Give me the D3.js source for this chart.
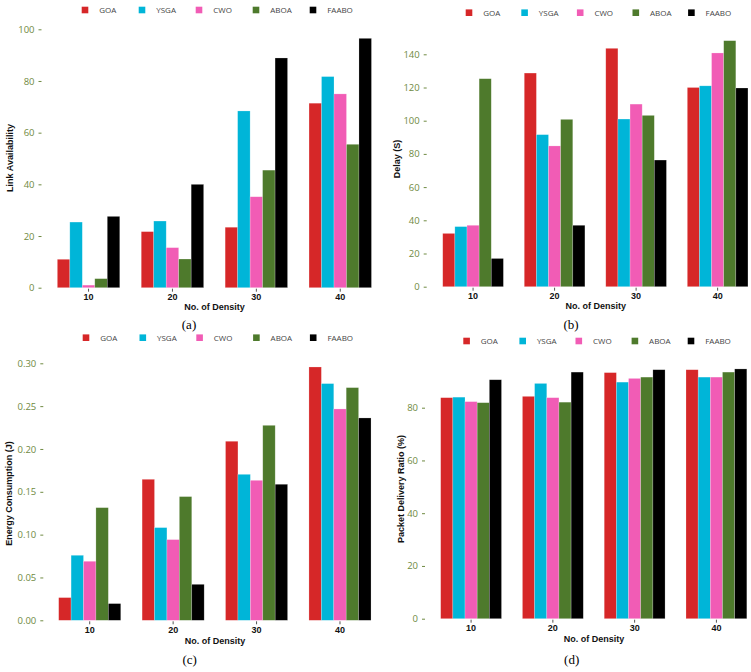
<!DOCTYPE html>
<html>
<head>
<meta charset="utf-8">
<script src="https://cdn.jsdelivr.net/npm/d3@7"></script>
<style>
  body { margin: 0; background: #fff; }
  .tick text { font-family: "Open Sans", sans-serif; }
  .ytick text { fill: #6f8a42; font-size: 9.5px; }
  .ytick line { stroke: #6f8a42; }
  .xtick text { fill: #111; font-size: 9px; font-weight: bold; font-family: "Liberation Sans", Arial, sans-serif; }
  .xtick line { stroke: #555; }
  .label { font-family: "Liberation Sans", Arial, sans-serif; font-weight: bold; font-size: 9px; fill: #111; }
  .legend text { font-family: "Open Sans", sans-serif; font-size: 8px; fill: #444; }
  .caption { font-family: "Liberation Serif", "Times New Roman", serif; font-size: 13px; fill: #000; }
</style>
</head>
<body>
<svg id="fig" width="751" height="672"></svg>
<script>
var densities = ["10", "20", "30", "40"];
var algorithms = ["GOA", "YSGA", "CWO", "ABOA", "FAABO"];
var colors = ["#d62728", "#00b5d8", "#f15cb5", "#4e7a2c", "#000000"];

// rows follow algorithms, columns follow densities
var linkAvailability = [
    [11, 21.7, 23.4, 71.4],
    [25.4, 25.8, 68.4, 81.7],
    [1, 15.5, 35.2, 75],
    [3.5, 11.1, 45.5, 55.5],
    [27.6, 40, 88.9, 96.5]
];
var delay = [
    [32.1, 128.7, 143.6, 120],
    [36.2, 91.6, 101, 121],
    [37, 84.8, 110, 140.8],
    [125.3, 100.8, 103.2, 148.2],
    [17, 37, 76.3, 119.7]
];
var energy = [
    [0.0265, 0.1646, 0.209, 0.2957],
    [0.0759, 0.1082, 0.1704, 0.2763],
    [0.0689, 0.0942, 0.1634, 0.2467],
    [0.1315, 0.1444, 0.2276, 0.2716],
    [0.0195, 0.042, 0.1588, 0.2362]
];
var pdr = [
    [83.8, 84.3, 93.3, 94.4],
    [84, 89.2, 89.7, 91.6],
    [82.3, 83.8, 91.1, 91.6],
    [81.9, 82.1, 91.6, 93.5],
    [90.6, 93.5, 94.4, 94.7]
];

var linkTicks = [0, 20, 40, 60, 80, 100];
var delayTicks = [0, 20, 40, 60, 80, 100, 120, 140];
var energyTicks = [0, 0.05, 0.10, 0.15, 0.20, 0.25, 0.30];
var pdrTicks = [0, 20, 40, 60, 80];

var svg = d3.select("#fig");

var panels = [
    {values: linkAvailability, ticks: linkTicks, fmt: d3.format("d"), title: "Link Availability", cap: "(a)",
     x0: 46.6, x1: 382.2, axisX: 41.5, zeroY: 287.7, topY: 29.3,
     titleX: 13, titleY: 158, xTitleX: 214.5, xTitleY: 310, legX: 81.7, legStep: 57, legY: 10, capX: 189, capY: 329},
    {values: delay, ticks: delayTicks, fmt: d3.format("d"), title: "Delay (S)", cap: "(b)",
     x0: 432.3, x1: 758.4, axisX: 426.7, zeroY: 286.7, topY: 54.3,
     titleX: 399.5, titleY: 159, xTitleX: 595.7, xTitleY: 309, legX: 465.7, legStep: 55.6, legY: 12.7, capX: 571, capY: 329},
    {values: energy, ticks: energyTicks, fmt: d3.format(".2f"), title: "Energy Consumption (J)", cap: "(c)",
     x0: 48, x1: 381.7, axisX: 43.3, zeroY: 620.3, topY: 363.3,
     titleX: 11.5, titleY: 493.5, xTitleX: 215, xTitleY: 644, legX: 82.7, legStep: 56.8, legY: 337.7, capX: 189.7, capY: 664},
    {values: pdr, ticks: pdrTicks, fmt: d3.format("d"), title: "Packet Delivery Ratio (%)", cap: "(d)",
     x0: 430.2, x1: 757.3, axisX: 425, zeroY: 618.7, topY: 407.7,
     titleX: 404, titleY: 489, xTitleX: 594, xTitleY: 642, legX: 463.3, legStep: 56.1, legY: 341, capX: 571.7, capY: 664}
];

var drawPanel = function(p) {
    var x = d3.scaleBand()
        .domain(densities)
        .range([p.x0, p.x1])
        .paddingInner(0.256)
        .paddingOuter(0.128);
    var xSub = d3.scaleBand()
        .domain(algorithms)
        .range([0, x.bandwidth()]);
    var y = d3.scaleLinear()
        .domain([0, p.ticks[p.ticks.length - 1]])
        .range([p.zeroY, p.topY]);

    var g = svg.append("g");

    algorithms.forEach(function(a, i) {
        g.append("g")
            .selectAll("rect")
            .data(p.values[i])
            .enter()
            .append("rect")
            .attr("x", function(d, j) { return x(densities[j]) + xSub(a); })
            .attr("y", function(d) { return y(d); })
            .attr("width", xSub.bandwidth())
            .attr("height", function(d) { return y(0) - y(d); })
            .attr("fill", colors[i])
            .attr("stroke", "#ffffff")
            .attr("stroke-opacity", 0.35)
            .attr("stroke-width", 0.6);
    });

    g.append("g")
        .attr("class", "ytick")
        .attr("transform", "translate(" + p.axisX + ",0)")
        .call(d3.axisLeft(y).tickValues(p.ticks).tickFormat(p.fmt).tickSize(3).tickPadding(4))
        .call(function(s) { s.select(".domain").remove(); });

    g.append("g")
        .attr("class", "xtick")
        .attr("transform", "translate(0," + (p.zeroY + 1) + ")")
        .call(d3.axisBottom(x).tickSize(3).tickPadding(2))
        .call(function(s) { s.select(".domain").remove(); });

    g.append("text")
        .attr("class", "label")
        .attr("text-anchor", "middle")
        .attr("transform", "translate(" + p.titleX + "," + p.titleY + ") rotate(-90)")
        .text(p.title);

    g.append("text")
        .attr("class", "label")
        .attr("text-anchor", "middle")
        .attr("x", p.xTitleX)
        .attr("y", p.xTitleY)
        .text("No. of Density");

    var leg = g.append("g").attr("class", "legend");
    var items = leg.selectAll("g")
        .data(algorithms)
        .enter()
        .append("g")
        .attr("transform", function(d, i) { return "translate(" + (p.legX + i * p.legStep) + "," + p.legY + ")"; });
    items.append("rect")
        .attr("x", 0)
        .attr("y", -3.3)
        .attr("width", 6.6)
        .attr("height", 6.6)
        .attr("fill", function(d, i) { return colors[i]; });
    items.append("text")
        .attr("x", 17.5)
        .attr("y", 3)
        .text(function(d) { return d; });

    g.append("text")
        .attr("class", "caption")
        .attr("text-anchor", "middle")
        .attr("x", p.capX)
        .attr("y", p.capY)
        .text(p.cap);
};

panels.forEach(drawPanel);
</script>
</body>
</html>
